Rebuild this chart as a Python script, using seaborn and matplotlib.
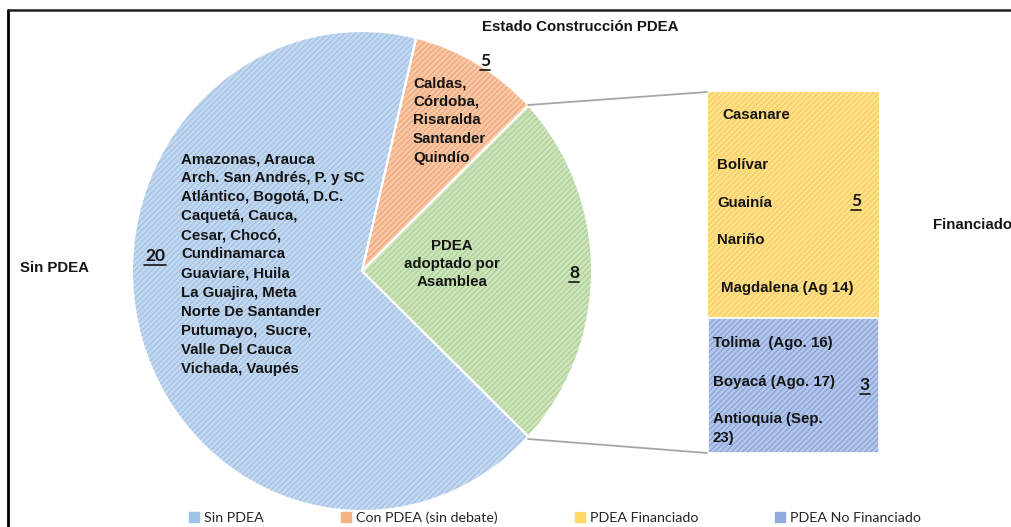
import seaborn as sns
import matplotlib.pyplot as plt
from matplotlib.lines import Line2D

# data
categories = ["Sin PDEA", "Con PDEA (sin debate)", "PDEA Financiado", "PDEA No Financiado"]
pie_values = [22, 3, 8]          # wedge sizes as drawn: Sin PDEA, Con PDEA, other (= bar)
bar_values = [5, 3]              # PDEA Financiado, PDEA No Financiado
count_labels = ["20", "5", "8", "5", "3"]

sin_names = ["Amazonas, Arauca", "Arch. San Andrés, P. y SC", "Atlántico, Bogotá, D.C.",
             "Caquetá, Cauca,", "Cesar, Chocó,", "Cundinamarca", "Guaviare, Huila",
             "La Guajira, Meta", "Norte De Santander", "Putumayo,  Sucre,",
             "Valle Del Cauca", "Vichada, Vaupés"]
con_names = ["Caldas,", "Córdoba,", "Risaralda", "Santander", "Quindío"]
fin_names = ["Casanare", "Bolívar", "Guainía", "Nariño", "Magdalena (Ag 14)"]
nofin_names = ["Tolima  (Ago. 16)", "Boyacá (Ago. 17)", "Antioquia (Sep.", "23)"]

face = {"sin": "#C3D8EF", "con": "#F7C7A6", "otro": "#CCE3BC", "fin": "#FFE08C", "nofin": "#B3C6EA"}
hatchc = {"sin": "#98BCE3", "con": "#EFA06F", "otro": "#A5CD8A", "fin": "#F5C84E", "nofin": "#7E9BD5"}
legend_colors = ["#9DC3E6", "#F4B183", "#FFD966", "#8FAADC"]

sns.set_theme(style="white")
plt.rcParams["font.family"] = ["Liberation Sans", "DejaVu Sans"]
plt.rcParams["hatch.linewidth"] = 0.7

W, H = 1012, 527
fig = plt.figure(figsize=(W / 100, H / 100), dpi=100)


def box(l, t, r, b):
    return [l / W, 1 - b / H, (r - l) / W, (b - t) / H]


# pie (slightly elliptical like the reference)
ax_pie = fig.add_axes(box(132, 31, 592, 511))
order = [2, 1, 0]
keys = ["sin", "con", "otro"]
vals = [pie_values[i] for i in order]
start = -180 * pie_values[2] / sum(pie_values)
wedges, _ = ax_pie.pie(vals, startangle=start, radius=1,
                       colors=[face[keys[i]] for i in order],
                       wedgeprops=dict(linewidth=0))
for w, i in zip(wedges, order):
    w.set_hatch("//////")
    w.set_edgecolor(hatchc[keys[i]])
    w.set_linewidth(0)
ax_pie.pie(vals, startangle=start, radius=1, colors=["none"] * 3,
           wedgeprops=dict(linewidth=1.5, edgecolor="white"))
ax_pie.set_aspect("auto")
ax_pie.set_xlim(-1, 1)
ax_pie.set_ylim(-1, 1)
ax_pie.axis("off")

# stacked bar of the "other" wedge
ax_bar = fig.add_axes(box(708, 92, 879, 453))
ax_bar.bar([0], [bar_values[1]], width=1, color=face["nofin"], edgecolor=hatchc["nofin"],
           hatch="//////", linewidth=0)
ax_bar.bar([0], [bar_values[0]], bottom=[bar_values[1]], width=1, color=face["fin"],
           edgecolor=hatchc["fin"], hatch="//////", linewidth=0)
ax_bar.bar([0], [bar_values[1]], width=1, color="none", edgecolor="white", linewidth=1.2)
ax_bar.set_xlim(-0.5, 0.5)
ax_bar.set_ylim(0, sum(bar_values))
ax_bar.axis("off")

# overlay in pixel coordinates for texts and connectors
ax = fig.add_axes([0, 0, 1, 1])
ax.set_xlim(0, W)
ax.set_ylim(H, 0)
ax.axis("off")
ax.patch.set_alpha(0)

ax.plot([8, 8], [10, H], color="black", lw=2)
ax.plot([8, W], [10, 10], color="#202020", lw=1.8)

ax.plot([528, 707], [105, 92], color="#A6A6A6", lw=1.3)
ax.plot([528, 707], [439, 453], color="#A6A6A6", lw=1.3)

bold = dict(fontsize=10.8, fontweight="bold", color="#141414", va="center")
ax.text(580, 27, "Estado Construcción PDEA", ha="center", **bold)
ax.text(20, 268, "Sin PDEA", ha="left", **bold)
ax.text(933, 225, "Financiado", ha="left", **bold)

for i, name in enumerate(sin_names):
    ax.text(181, 159 + i * 19.1, name, ha="left", **bold)
for i, name in enumerate(con_names):
    ax.text(413, 83 + i * 18.7, name, ha="left", **bold)
for i, name in enumerate(["PDEA", "adoptado por", "Asamblea"]):
    ax.text(452, 246 + i * 18.2, name, ha="center", **bold)
for name, x, y in zip(fin_names, [722, 717, 717, 717, 721], [115, 165, 203, 240, 288]):
    ax.text(x, y, name, ha="left", **bold)
for name, y in zip(nofin_names, [343, 382, 419, 438]):
    ax.text(713, y, name, ha="left", **bold)

num = dict(fontsize=12.5, fontweight="bold", color="#141414", ha="center", va="center",
           family=["Lato", "DejaVu Sans"])
for lab, (x, y, hw) in zip(count_labels, [(155, 256, 11), (485, 61, 5), (574, 273, 5),
                                          (856, 201, 5), (865, 385, 5)]):
    ax.text(x, y, lab, **num)
    ax.plot([x - hw, x + hw], [y + 9, y + 9], color="#141414", lw=1.2)

handles = [Line2D([], [], marker="s", ls="", markersize=6.5, color=c) for c in legend_colors]
fig.legend(handles, categories, loc="center", bbox_to_anchor=(555 / W, 1 - 518 / H),
           ncol=4, frameon=False, handlelength=0.7, handletextpad=0.35, columnspacing=5.4,
           prop=dict(family=["Lato", "DejaVu Sans"], size=10.3), labelcolor="#262626")

fig.savefig("out.png", dpi=100)
